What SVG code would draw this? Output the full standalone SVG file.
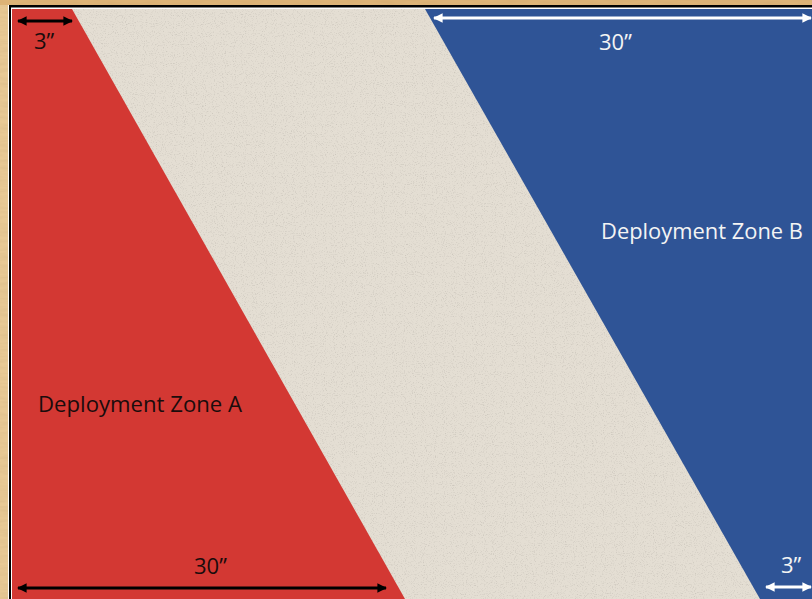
<svg xmlns="http://www.w3.org/2000/svg" width="812" height="599" viewBox="0 0 812 599">
  <style>
    .lbl { font-family: "Open Sans", "Liberation Sans", sans-serif; font-size: 22px; }
    .dark { fill: #1a0c0c; }
    .light { fill: #f4f4f4; }
    .arrBlack { stroke: #000; stroke-width: 3; fill: none; }
    .arrWhite { stroke: #fff; stroke-width: 3; fill: none; }
  </style>
  <defs>
    <filter id="wood" x="0" y="0" width="100%" height="100%">
      <feTurbulence type="fractalNoise" baseFrequency="0.05 0.3" numOctaves="3" seed="4" result="n"/>
      <feColorMatrix in="n" type="matrix" values="0 0 0 0 0.7  0 0 0 0 0.5  0 0 0 0 0.25  0 0 0 1.2 -0.4" result="c"/>
      <feComposite in="c" in2="SourceGraphic" operator="in"/>
    </filter>
    <filter id="sand" x="0" y="0" width="100%" height="100%">
      <feTurbulence type="fractalNoise" baseFrequency="0.9" numOctaves="2" seed="7" result="n"/>
      <feColorMatrix in="n" type="matrix" values="0 0 0 0 0.5  0 0 0 0 0.47  0 0 0 0 0.42  0 0 0 1.6 -0.85" result="c"/>
      <feComposite in="c" in2="SourceGraphic" operator="in"/>
    </filter>
    <marker id="hb" viewBox="0 0 10 10" refX="9" refY="5" markerWidth="3.2" markerHeight="3.2" orient="auto-start-reverse">
      <path d="M0,0 L10,5 L0,10 z" fill="#000"/>
    </marker>
    <marker id="hw" viewBox="0 0 10 10" refX="9" refY="5" markerWidth="3.2" markerHeight="3.2" orient="auto-start-reverse">
      <path d="M0,0 L10,5 L0,10 z" fill="#fff"/>
    </marker>
  </defs>

  <g id="frame">
    <rect x="0" y="0" width="812" height="599" fill="#e8c995"/>
    <rect x="0" y="0" width="812" height="599" fill="#fff" filter="url(#wood)"/>
    <rect x="0" y="0" width="812" height="5" fill="#d6a35f" opacity="0.55"/>
    <rect x="8" y="5" width="812" height="610" fill="#fff"/>
    <rect x="9" y="5" width="812" height="610" fill="#000"/>
    <rect x="11" y="7.5" width="812" height="610" fill="#fff"/>
  </g>

  <g id="board">
    <rect x="12" y="9" width="800" height="590" fill="#e4ded3"/>
    <rect x="12" y="9" width="800" height="590" fill="#fff" filter="url(#sand)"/>
  </g>

  <g id="zoneA">
    <polygon points="12,9 72,9 405,599 12,599" fill="#d33833"/>
    <text class="lbl dark" x="38" y="412" textLength="204" lengthAdjust="spacingAndGlyphs">Deployment Zone A</text>
  </g>

  <g id="zoneB">
    <polygon points="425,9 812,9 812,599 760,599" fill="#2f5496"/>
    <text class="lbl light" x="601" y="239" textLength="202" lengthAdjust="spacingAndGlyphs">Deployment Zone B</text>
  </g>

  <g id="connectors">
    <line class="arrBlack" x1="18" y1="21" x2="72" y2="21" marker-start="url(#hb)" marker-end="url(#hb)"/>
    <line class="arrWhite" x1="434" y1="18" x2="811" y2="18" marker-start="url(#hw)" marker-end="url(#hw)"/>
    <line class="arrBlack" x1="18" y1="588" x2="386" y2="588" marker-start="url(#hb)" marker-end="url(#hb)"/>
    <line class="arrWhite" x1="766" y1="587" x2="811" y2="587" marker-start="url(#hw)" marker-end="url(#hw)"/>
  </g>

  <g id="labels">
    <text class="lbl dark" x="34" y="49">3”</text>
    <text class="lbl light" x="599" y="50">30”</text>
    <text class="lbl dark" x="194" y="574">30”</text>
    <text class="lbl light" x="781" y="573">3”</text>
  </g>
</svg>
